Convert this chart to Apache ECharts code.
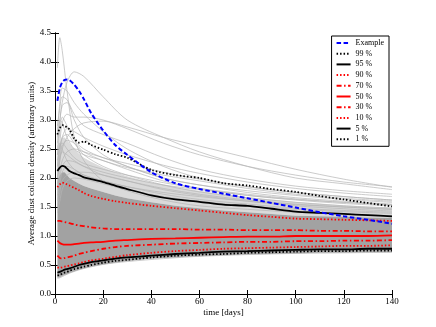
<!DOCTYPE html>
<html>
<head>
<meta charset="utf-8">
<script src="https://cdn.jsdelivr.net/npm/echarts@6/dist/echarts.min.js"></script>
<style>
  html, body { margin: 0; padding: 0; background: #fff; }
  #chart { width: 436px; height: 327px; }
</style>
</head>
<body>
<div id="chart"></div>
<script>
// sample days for the percentile curves
var days = [1, 2, 3, 4, 5, 6, 8, 10, 12, 15, 20, 25, 30, 40, 50, 60, 70, 80, 90, 100, 110, 120, 130, 140];

var example = [3.33, 3.55, 3.65, 3.69, 3.70, 3.69, 3.61, 3.50, 3.36, 3.12, 2.82, 2.57, 2.40, 2.10, 1.91, 1.81, 1.73, 1.65, 1.57, 1.49, 1.41, 1.34, 1.28, 1.21];
var p99 = [2.75, 2.86, 2.91, 2.90, 2.87, 2.84, 2.68, 2.61, 2.63, 2.57, 2.49, 2.41, 2.35, 2.14, 2.05, 2.00, 1.91, 1.87, 1.81, 1.76, 1.69, 1.63, 1.57, 1.51];
var p95 = [2.12, 2.18, 2.21, 2.20, 2.16, 2.12, 2.08, 2.05, 2.01, 1.98, 1.93, 1.87, 1.81, 1.70, 1.63, 1.59, 1.54, 1.52, 1.47, 1.42, 1.40, 1.38, 1.36, 1.34];
var p90 = [1.84, 1.89, 1.92, 1.91, 1.89, 1.87, 1.83, 1.79, 1.74, 1.69, 1.64, 1.60, 1.57, 1.52, 1.48, 1.44, 1.40, 1.36, 1.33, 1.30, 1.29, 1.28, 1.27, 1.26];
var p70 = [1.26, 1.26, 1.25, 1.24, 1.23, 1.22, 1.20, 1.18, 1.17, 1.15, 1.13, 1.12, 1.12, 1.12, 1.12, 1.11, 1.11, 1.10, 1.10, 1.10, 1.09, 1.09, 1.08, 1.08];
var p50 = [0.92, 0.88, 0.86, 0.85, 0.85, 0.85, 0.86, 0.87, 0.88, 0.89, 0.90, 0.92, 0.93, 0.95, 0.96, 0.97, 0.98, 0.99, 0.99, 1.00, 1.00, 1.00, 1.00, 1.01];
var p30 = [0.66, 0.62, 0.61, 0.62, 0.63, 0.64, 0.66, 0.69, 0.71, 0.74, 0.78, 0.81, 0.83, 0.85, 0.87, 0.88, 0.89, 0.90, 0.90, 0.91, 0.91, 0.92, 0.92, 0.93];
var p10 = [0.46, 0.45, 0.46, 0.47, 0.48, 0.49, 0.51, 0.53, 0.55, 0.58, 0.61, 0.64, 0.67, 0.71, 0.74, 0.76, 0.78, 0.79, 0.80, 0.81, 0.82, 0.83, 0.83, 0.84];
var p5 = [0.37, 0.38, 0.40, 0.42, 0.43, 0.44, 0.47, 0.50, 0.52, 0.55, 0.58, 0.61, 0.63, 0.66, 0.69, 0.71, 0.73, 0.74, 0.75, 0.76, 0.77, 0.77, 0.78, 0.78];
var p1 = [0.32, 0.33, 0.35, 0.37, 0.38, 0.40, 0.43, 0.45, 0.47, 0.50, 0.54, 0.57, 0.59, 0.63, 0.66, 0.68, 0.69, 0.71, 0.72, 0.73, 0.74, 0.74, 0.75, 0.75];

// where the grey runs pile up (dense core, then lighter fringe)
var coreLow = [0.28, 0.29, 0.31, 0.33, 0.34, 0.36, 0.39, 0.42, 0.44, 0.47, 0.51, 0.54, 0.57, 0.61, 0.63, 0.65, 0.67, 0.68, 0.69, 0.70, 0.71, 0.71, 0.72, 0.72];
var coreHigh = [1.95, 2.05, 2.10, 2.10, 2.05, 2.00, 1.95, 1.90, 1.86, 1.82, 1.76, 1.70, 1.65, 1.58, 1.52, 1.48, 1.44, 1.41, 1.38, 1.35, 1.34, 1.33, 1.32, 1.31];
var fringeHigh = [2.40, 2.60, 2.70, 2.70, 2.65, 2.60, 2.50, 2.42, 2.35, 2.28, 2.18, 2.10, 2.03, 1.92, 1.84, 1.78, 1.72, 1.67, 1.63, 1.59, 1.56, 1.53, 1.51, 1.49];

// single grey runs that stand out of the pile
var runDays = [1, 2, 3, 5, 8, 12, 20, 30, 45, 60, 80, 100, 120, 140];
var grayRuns = [
  [3.90, 4.42, 4.20, 3.50, 2.70, 2.30, 1.95, 1.78, 1.62, 1.52, 1.46, 1.41, 1.38, 1.35],
  [2.60, 3.00, 3.30, 3.65, 3.83, 3.75, 3.40, 3.00, 2.70, 2.45, 2.20, 2.00, 1.90, 1.80],
  [2.90, 3.20, 3.40, 3.35, 3.10, 2.90, 2.75, 2.60, 2.35, 2.15, 1.98, 1.86, 1.78, 1.72],
  [2.50, 2.95, 3.25, 3.30, 3.00, 2.70, 2.40, 2.20, 2.00, 1.88, 1.78, 1.70, 1.63, 1.58],
  [2.20, 2.60, 2.95, 3.10, 3.05, 3.05, 3.00, 2.85, 2.60, 2.40, 2.20, 2.05, 1.93, 1.85],
  [2.40, 2.80, 3.05, 2.90, 2.65, 2.50, 2.35, 2.25, 2.10, 1.98, 1.85, 1.75, 1.68, 1.62],
  [2.70, 3.00, 2.95, 2.70, 2.50, 2.40, 2.30, 2.15, 1.95, 1.82, 1.70, 1.62, 1.56, 1.52],
  [2.00, 2.40, 2.70, 2.85, 2.80, 2.70, 2.55, 2.40, 2.22, 2.08, 1.93, 1.82, 1.74, 1.68],
  [2.30, 2.55, 2.60, 2.50, 2.35, 2.25, 2.15, 2.05, 1.92, 1.82, 1.72, 1.64, 1.58, 1.54],
  [1.90, 2.30, 2.55, 2.65, 2.60, 2.45, 2.30, 2.18, 2.05, 1.95, 1.82, 1.72, 1.65, 1.60],
  [2.10, 2.35, 2.45, 2.40, 2.30, 2.20, 2.05, 1.95, 1.82, 1.72, 1.62, 1.55, 1.50, 1.46],
  [1.80, 2.10, 2.30, 2.45, 2.50, 2.45, 2.35, 2.20, 2.00, 1.88, 1.75, 1.66, 1.60, 1.55],
  [2.20, 2.50, 2.70, 2.75, 2.60, 2.40, 2.20, 2.05, 1.88, 1.76, 1.66, 1.58, 1.52, 1.48],
  [1.70, 2.00, 2.20, 2.30, 2.28, 2.20, 2.10, 2.00, 1.88, 1.80, 1.70, 1.63, 1.58, 1.54],
  [2.00, 2.30, 2.50, 2.70, 2.85, 2.95, 2.98, 2.88, 2.70, 2.55, 2.35, 2.15, 1.98, 1.84],
  [2.80, 3.30, 3.55, 3.50, 3.30, 3.10, 2.80, 2.50, 2.20, 2.00, 1.85, 1.75, 1.68, 1.62],
  [1.60, 1.90, 2.10, 2.20, 2.15, 2.05, 1.95, 1.85, 1.75, 1.68, 1.60, 1.54, 1.50, 1.46],
  [1.50, 1.75, 1.95, 2.05, 2.10, 2.10, 2.05, 1.95, 1.80, 1.70, 1.60, 1.52, 1.47, 1.43],
  [2.40, 2.60, 2.50, 2.30, 2.15, 2.05, 1.95, 1.85, 1.72, 1.63, 1.55, 1.48, 1.44, 1.41],
  [1.40, 1.60, 1.80, 1.95, 2.00, 1.98, 1.90, 1.80, 1.68, 1.60, 1.52, 1.46, 1.42, 1.39],
  [0.27, 0.28, 0.30, 0.34, 0.39, 0.44, 0.51, 0.56, 0.61, 0.65, 0.68, 0.70, 0.71, 0.72],
  [0.30, 0.30, 0.32, 0.35, 0.41, 0.46, 0.53, 0.58, 0.63, 0.66, 0.70, 0.72, 0.73, 0.74]
];

var xTicks = [0, 140, 20];   // min, max, step
var yTicks = [0, 4.5, 0.5];

function pairs(xs, ys) {
  return xs.map(function (x, i) { return [x, ys[i]]; });
}

// band between two curves, drawn as one polygon from the first row
function band(lo, hi, color, z) {
  var rows = days.map(function (d, i) { return [d, lo[i], hi[i]]; });
  return {
    type: 'custom', silent: true, z: z,
    data: rows,
    encode: { x: 0, y: [1, 2] },
    renderItem: function (params, api) {
      if (params.dataIndexInside !== 0) return;
      var pts = [];
      for (var i = 0; i < rows.length; i++) {
        pts.push(api.coord([api.value(0, i), api.value(1, i)]));
      }
      for (var j = rows.length - 1; j >= 0; j--) {
        pts.push(api.coord([api.value(0, j), api.value(2, j)]));
      }
      return { type: 'polygon', shape: { points: pts },
        style: { fill: color } };
    }
  };
}

var serif = 'Liberation Serif';
var chart = echarts.init(document.getElementById('chart'), null, { renderer: 'canvas' });

var series = [];
series.push(band(coreHigh, fringeHigh, '#dadada', 0));
series.push(band(coreLow, coreHigh, '#a2a2a2', 1));

grayRuns.forEach(function (run) {
  series.push({ type: 'line', data: pairs(runDays, run), symbol: 'none', smooth: 0.3, silent: true, z: 2,
    lineStyle: { color: '#b4b4b4', width: 0.7 } });
});

function curve(name, vals, color, dash, width) {
  return { name: name, type: 'line', data: pairs(days, vals), symbol: 'none', smooth: 0.25, z: 5,
    itemStyle: { color: color },
    lineStyle: { color: color, width: width, type: dash } };
}

var dotted = [1.5, 2];
var dashdot = [5, 2.5, 1.5, 2.5];
series.push(curve('99 %', p99, '#000', dotted, 1.8));
series.push(curve('95 %', p95, '#000', 'solid', 1.8));
series.push(curve('90 %', p90, '#ff0000', dotted, 1.8));
series.push(curve('70 %', p70, '#ff0000', dashdot, 1.8));
series.push(curve('50 %', p50, '#ff0000', 'solid', 1.8));
series.push(curve('30 %', p30, '#ff0000', dashdot, 1.8));
series.push(curve('10 %', p10, '#ff0000', dotted, 1.8));
series.push(curve('5 %', p5, '#000', 'solid', 1.8));
series.push(curve('1 %', p1, '#000', dotted, 1.8));
var ex = curve('Example', example, '#0000ff', [4.5, 2.5], 2);
ex.z = 6;
series.push(ex);

var axisText = { fontFamily: serif, fontSize: 9, color: '#000' };

chart.setOption({
  animation: false,
  backgroundColor: '#fff',
  grid: { left: 55, right: 44, top: 33, bottom: 33 },
  legend: {
    data: ['Example', '99 %', '95 %', '90 %', '70 %', '50 %', '30 %', '10 %', '5 %', '1 %'],
    orient: 'vertical',
    right: 47, top: 36,
    itemWidth: 14, itemHeight: 8, itemGap: 2.7,
    padding: [3, 5, 3, 4],
    backgroundColor: '#fff',
    borderColor: '#000', borderWidth: 1,
    itemStyle: { color: 'rgba(0,0,0,0)', borderWidth: 0 },
    textStyle: { fontFamily: serif, fontSize: 8, color: '#000' }
  },
  xAxis: [{
    type: 'value', min: xTicks[0], max: xTicks[1], interval: xTicks[2],
    name: 'time [days]', nameLocation: 'middle', nameGap: 14, nameMoveOverlap: false,
    nameTextStyle: axisText,
    axisLine: { lineStyle: { color: '#000', width: 1 } },
    axisTick: { inside: true, length: 4, lineStyle: { color: '#000' } },
    axisLabel: Object.assign({ margin: 3 }, axisText),
    splitLine: { show: false }
  }, {
    type: 'value', position: 'top', min: xTicks[0], max: xTicks[1], interval: xTicks[2],
    axisLine: { lineStyle: { color: '#000', width: 1 } },
    axisTick: { inside: true, length: 4, lineStyle: { color: '#000' } },
    axisLabel: { show: false },
    splitLine: { show: false }
  }],
  yAxis: [{
    type: 'value', min: yTicks[0], max: yTicks[1], interval: yTicks[2],
    name: 'Average dust column density (arbitrary units)', nameLocation: 'middle', nameGap: 19, nameMoveOverlap: false,
    nameTextStyle: axisText,
    axisLine: { show: true, lineStyle: { color: '#000', width: 1 } },
    axisTick: { show: true, inside: true, length: 4, lineStyle: { color: '#000' } },
    axisLabel: Object.assign({ margin: 4, formatter: function (v) { return v.toFixed(1); } }, axisText),
    splitLine: { show: false }
  }, {
    type: 'value', position: 'right', min: yTicks[0], max: yTicks[1], interval: yTicks[2],
    axisLine: { show: true, lineStyle: { color: '#000', width: 1 } },
    axisTick: { show: true, inside: true, length: 4, lineStyle: { color: '#000' } },
    axisLabel: { show: false },
    splitLine: { show: false }
  }],
  series: series
});
</script>
</body>
</html>
